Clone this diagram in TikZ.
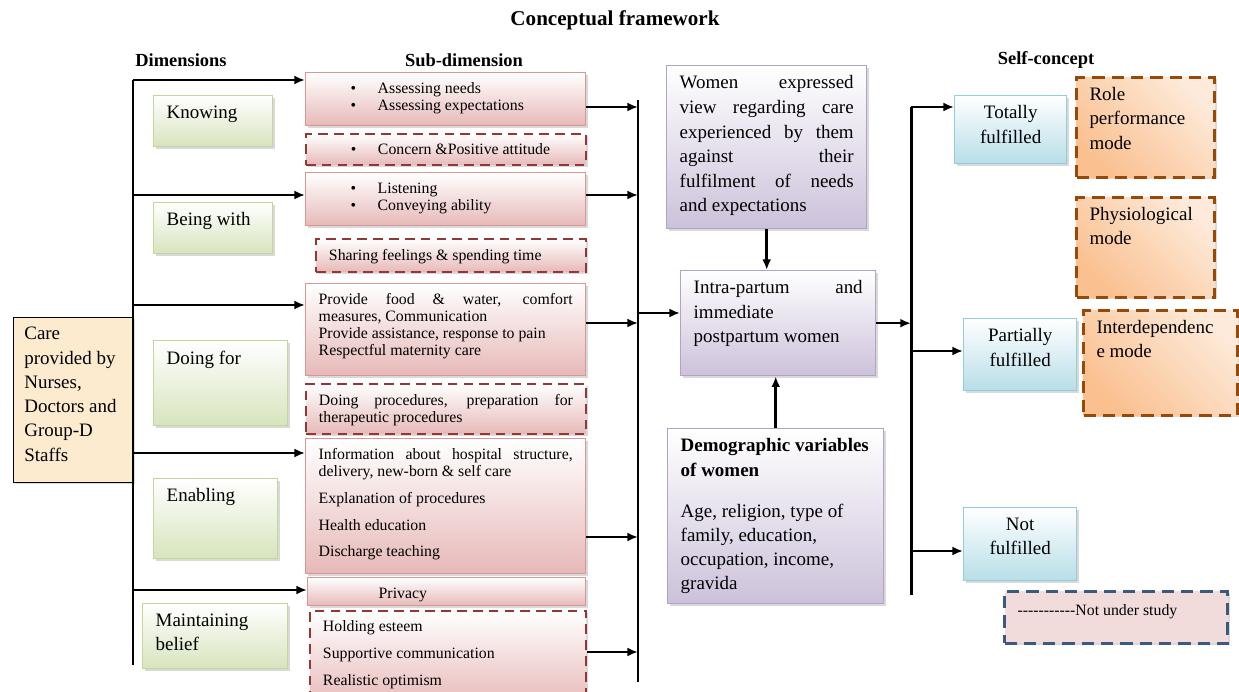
\documentclass[tikz,border=0pt]{standalone}
\usepackage{fontspec}
\setmainfont{Liberation Serif}
\usetikzlibrary{shadows, calc, positioning, arrows.meta}

% one unit of the picture = one pixel of the original
\newlength{\pxu}\setlength{\pxu}{0.02cm}
\newcommand{\tb}[3]{\parbox[c][#2\pxu][t]{#1\pxu}{#3}}
\newcommand{\itm}[1]{\hspace*{32\pxu}\makebox[27\pxu][l]{\textbullet}#1}

\definecolor{grnfill}{HTML}{D7E4BD}
\definecolor{grnline}{HTML}{C3D69B}
\definecolor{pnkfill}{HTML}{E6B9B8}
\definecolor{pnkline}{HTML}{D99694}
\definecolor{dred}{HTML}{943634}
\definecolor{purfill}{HTML}{CCC1DA}
\definecolor{purline}{HTML}{B3A2C7}
\definecolor{blufill}{HTML}{B7DEE8}
\definecolor{bluline}{HTML}{93CDDD}
\definecolor{orlight}{HTML}{FDEADA}
\definecolor{ordark}{HTML}{FAC08F}
\definecolor{orline}{HTML}{984807}
\definecolor{carefill}{HTML}{FCEBCF}
\definecolor{notefill}{HTML}{F2DCDB}
\definecolor{noteline}{HTML}{3A5A80}

\begin{document}
\begin{tikzpicture}[x=0.02cm, y=-0.02cm,
    box/.style={anchor=north west, inner xsep=0.26cm, inner ysep=0.2cm,
        font=\fontsize{10.8}{13.8}\selectfont,
        drop shadow={shadow xshift=0.04cm, shadow yshift=-0.04cm, opacity=0.3}},
    smallbox/.style={box, font=\fontsize{9}{9.7}\selectfont},
    carebox/.style={box, draw=black, fill=carefill, inner xsep=0.22cm},
    greenbox/.style={box, draw=grnline, line width=0.8pt, top color=white, bottom color=grnfill},
    pinkbox/.style={smallbox, draw=pnkline, line width=0.8pt, top color=white, bottom color=pnkfill},
    pinkdash/.style={smallbox, draw=dred, line width=1.1pt, dash pattern=on 5.5pt off 3.5pt,
        top color=white, bottom color=pnkfill},
    purplebox/.style={box, draw=purline, line width=0.8pt, top color=white, bottom color=purfill},
    bluebox/.style={box, draw=bluline, line width=0.8pt, top color=white, bottom color=blufill},
    orangebox/.style={box, draw=orline, line width=1.7pt, dash pattern=on 7pt off 4pt,
        top color=orlight, bottom color=ordark, shading angle=-45},
    notebox/.style={smallbox, draw=noteline, line width=1.7pt, dash pattern=on 7pt off 4pt,
        fill=notefill},
    hdr/.style={font=\fontsize{10.5}{12}\selectfont\bfseries},
    trunk/.style={line width=1.7pt},
    branch/.style={line width=1.7pt, -{Latex[length=6pt,width=5pt]}},
    link/.style={line width=1.2pt, -{Latex[length=6pt,width=5pt]}}]

    \useasboundingbox (0,0) rectangle (1239,692);
    \clip (0,0) rectangle (1239,692);

    % Headings
    \node[font=\fontsize{12}{14}\selectfont\bfseries] (title) at (615,20) {Conceptual framework};
    \node[hdr] (hdim) at (181,60) {Dimensions};
    \node[hdr] (hsub) at (464,60) {Sub-dimension};
    \node[hdr] (hself) at (1046,60) {Self-concept};

    % Care givers
    \node[carebox] (care) at (13,317) {\tb{98}{145}{Care\\provided by\\Nurses,\\Doctors and\\Group-D\\Staffs}};

    % Dimensions
    \node[greenbox] (know) at (153,95) {\tb{93}{31}{Knowing}};
    \node[greenbox] (being) at (153,202) {\tb{93}{31}{Being with}};
    \node[greenbox] (doing) at (153,340) {\tb{108}{65}{Doing for}};
    \node[greenbox] (enab) at (153,478) {\tb{98}{60}{Enabling}};
    \node[greenbox] (maint) at (142,603) {\tb{119}{45}{Maintaining\\belief}};

    % Sub-dimensions
    \node[pinkbox] (s1) at (305,72) {\tb{254}{33}{\itm{Assessing needs}\\\itm{Assessing expectations}}};
    \node[pinkdash] (s2) at (305,133) {\tb{254}{11}{\itm{Concern \&Positive attitude}}};
    \node[pinkbox] (s3) at (305,172) {\tb{254}{33}{\itm{Listening}\\\itm{Conveying ability}}};
    \node[pinkdash] (s4) at (315,238) {\tb{244}{13}{Sharing feelings \& spending time}};
    \node[pinkbox] (s5) at (305,283) {\tb{254}{72}{Provide food \& water, comfort\linebreak measures, Communication\\
        Provide assistance, response to pain\\Respectful maternity care}};
    \node[pinkdash] (s6) at (305,383) {\tb{254}{30}{Doing procedures, preparation for\linebreak therapeutic procedures}};
    \node[pinkbox] (s7) at (305,438) {\tb{254}{115}{Information about hospital structure,\linebreak delivery, new-born \& self care\\[5.5pt]
        Explanation of procedures\\[5.5pt]Health education\\[5.5pt]Discharge teaching}};
    \node[pinkbox] (s8) at (307,577) {\tb{252}{8}{\hspace*{58\pxu}Privacy}};
    \node[pinkdash] (s9) at (309,610) {\tb{250}{75}{Holding esteem\\[5.6pt]Supportive communication\\[5.6pt]Realistic optimism}};

    % Women
    \node[purplebox, font=\fontsize{10.8}{14}\selectfont] (women) at (666,65) {\tb{174}{143}{Women expressed\linebreak
        view regarding care\linebreak experienced by them\linebreak against their\linebreak
        fulfilment of needs\linebreak and expectations}};
    \node[purplebox] (intra) at (680,270) {\tb{169}{85}{Intra-partum and\linebreak immediate\\postpartum women}};
    \node[purplebox] (demo) at (667,428) {\tb{190}{155}{\textbf{Demographic variables}\\\textbf{of women}\\[9.6pt]
        Age, religion, type of\\family, education,\\occupation, income,\\gravida}};

    % Self-concept
    \node[bluebox] (tot) at (954,95) {\tb{86}{48}{\centering Totally\\fulfilled}};
    \node[bluebox] (part) at (963,318) {\tb{87}{52}{\centering Partially\\fulfilled}};
    \node[bluebox] (notf) at (963,507) {\tb{87}{53}{\centering Not\\fulfilled}};
    \node[orangebox] (role) at (1075,76) {\tb{112}{80}{Role\\performance\\mode}};
    \node[orangebox] (phys) at (1075,196) {\tb{112}{80}{Physiological\\mode}};
    \node[orangebox] (inter) at (1082,309) {\tb{128}{85}{Interdependenc\\e mode}};
    \node[notebox] (note) at (1003,590) {\tb{197}{32}{\vspace*{2pt}-{}-{}-{}-{}-{}-{}-{}-{}-{}-{}-Not under study}};

    % Left trunk and branches
    \coordinate (lt) at (133,80);
    \coordinate (lb) at (133,665);
    \draw[trunk] (lt) -- (lb);
    \foreach \s/\y [count=\i] in {s1/80, s3/195, s5/305, s7/453, s8/590} {
        \coordinate (L\i) at (133,\y);
        \draw[branch] (L\i) -- (L\i -| \s.west);
    }

    % Middle collector
    \coordinate (mt) at (638,100);
    \coordinate (mb) at (638,682);
    \draw[line width=1.1pt] (mt) -- (mb);
    \foreach \s/\y [count=\i] in {s1/107, s3/195, s5/323, s7/537, s9/652} {
        \coordinate (M\i) at (638,\y);
        \draw[link] (\s.east |- M\i) -- (M\i);
    }
    \coordinate (mi) at (638,313);
    \draw[link] (mi) -- (mi -| intra.west);
    \draw[link, line width=1.4pt] (women.south) -- (women.south |- intra.north);
    \draw[link, line width=1.4pt] (demo.north) -- (demo.north |- intra.south);

    % Right trunk and branches
    \coordinate (rt) at (911,107);
    \coordinate (rb) at (911,595);
    \draw[trunk] (rt) -- (rb);
    \draw[link, line width=1.4pt] (intra.east) -- (intra.east -| rt);
    \coordinate (r2) at (911,351);
    \coordinate (r3) at (911,551);
    \draw[branch] (rt) -- (rt -| tot.west);
    \draw[branch] (r2) -- (r2 -| part.west);
    \draw[branch] (r3) -- (r3 -| notf.west);
\end{tikzpicture}
\end{document}
